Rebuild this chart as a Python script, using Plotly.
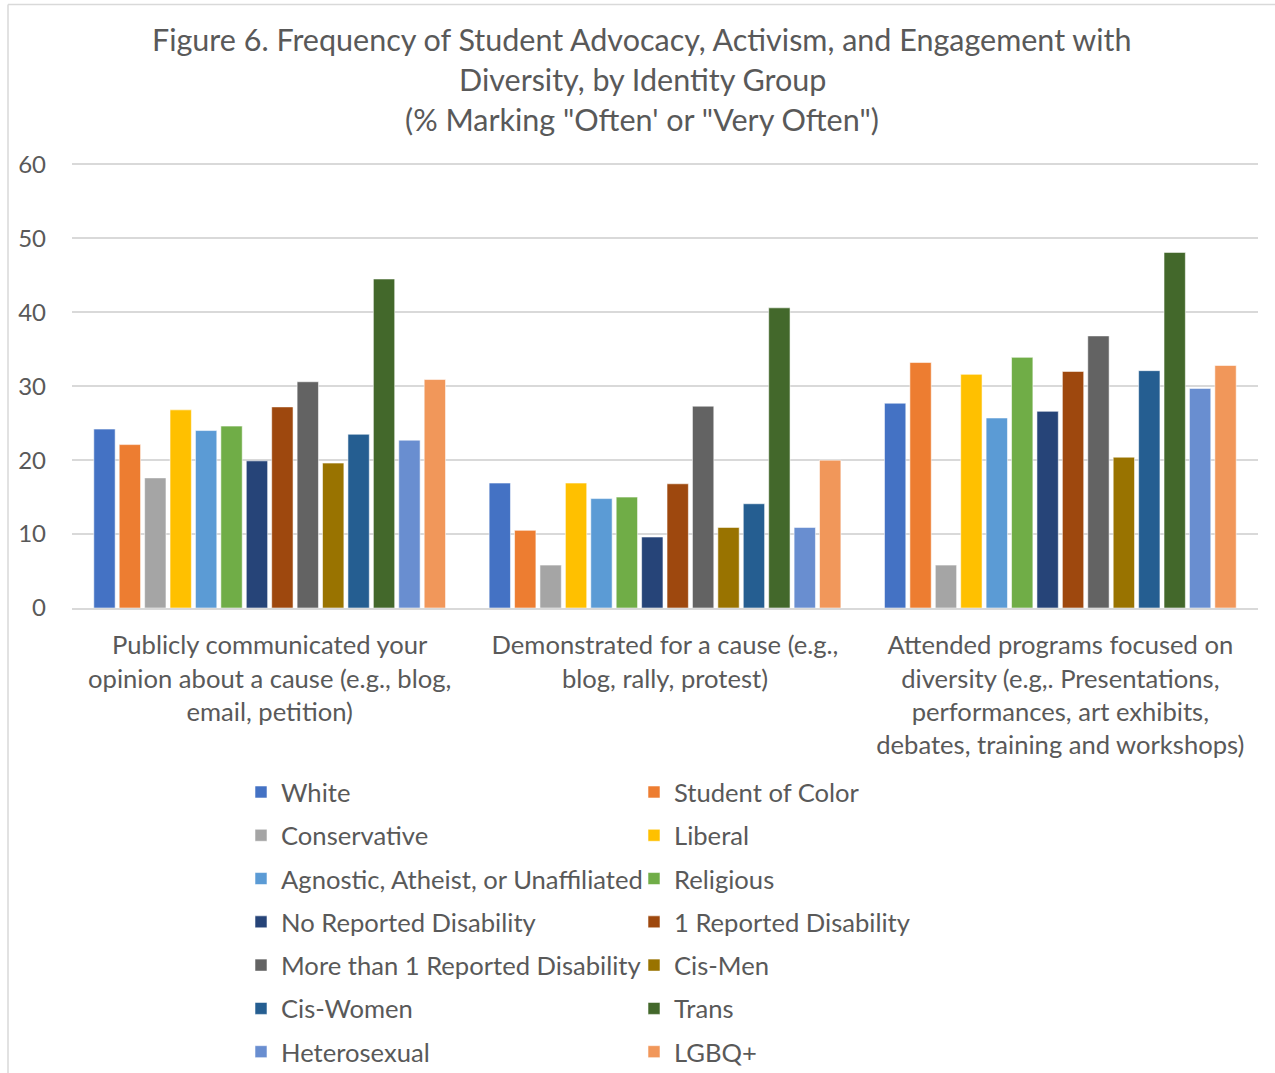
import plotly.graph_objects as go

categories = [
    "Publicly communicated your<br>opinion about a cause (e.g., blog,<br>email, petition)",
    "Demonstrated for a cause (e.g.,<br>blog, rally, protest)",
    "Attended programs focused on<br>diversity (e.g,. Presentations,<br>performances, art exhibits,<br>debates, training and workshops)",
]

series_names = [
    "White", "Student of Color", "Conservative", "Liberal",
    "Agnostic, Atheist, or Unaffiliated", "Religious",
    "No Reported Disability", "1 Reported Disability",
    "More than 1 Reported Disability", "Cis-Men", "Cis-Women", "Trans",
    "Heterosexual", "LGBQ+",
]

white = [24.2, 16.9, 27.7]
student_of_color = [22.1, 10.5, 33.2]
conservative = [17.6, 5.8, 5.8]
liberal = [26.8, 16.9, 31.6]
agnostic = [24.0, 14.8, 25.7]
religious = [24.6, 15.0, 33.9]
no_disability = [19.9, 9.6, 26.6]
one_disability = [27.2, 16.8, 32.0]
more_disability = [30.6, 27.3, 36.8]
cis_men = [19.6, 10.9, 20.4]
cis_women = [23.5, 14.1, 32.1]
trans = [44.5, 40.6, 48.1]
heterosexual = [22.7, 10.9, 29.7]
lgbq = [30.9, 20.0, 32.8]

series_values = [
    white, student_of_color, conservative, liberal, agnostic, religious,
    no_disability, one_disability, more_disability, cis_men, cis_women,
    trans, heterosexual, lgbq,
]

colors = [
    "#4472C4", "#ED7D31", "#A5A5A5", "#FFC000", "#5B9BD5", "#70AD47",
    "#264478", "#9E480E", "#636363", "#997300", "#255E91", "#43682B",
    "#698ED0", "#F1975A",
]

y_ticks = [0, 10, 20, 30, 40, 50, 60]

title_lines = [
    "Figure 6. Frequency of Student Advocacy, Activism, and Engagement with",
    "Diversity, by Identity Group",
    "(% Marking \"Often' or \"Very Often\")",
]

FONT = "Lato"
GREY = "#595959"

W, H = 1275, 1073
Y_MAX = 61
# 0 at 608 px, 60 at 164 px -> top of plot for Y_MAX
L, R, B = 72, 1258, 608
T = B - (B - 164) * Y_MAX / 60


def px_x(p):
    return (p - L) / (R - L)


def px_y(p):
    return (B - p) / (B - T)


fig = go.Figure()
for i, (name, vals, col) in enumerate(zip(series_names, series_values, colors)):
    fig.add_trace(go.Bar(
        name=name,
        x=categories,
        y=vals,
        marker=dict(color=col, line=dict(color="rgba(255,255,255,0.55)", width=1)),
        legend="legend" if i % 2 == 0 else "legend2",
        legendgroup=name,
    ))

legend_common = dict(
    orientation="v",
    yanchor="top",
    y=px_y(769),
    xanchor="left",
    font=dict(family=FONT, size=25.6, color=GREY),
    bgcolor="rgba(0,0,0,0)",
    tracegroupgap=7,
    itemclick=False,
)

title_y = [38, 79, 119]
annotations = [
    dict(text=t, x=px_x(642), y=px_y(yy), xref="paper", yref="paper",
         xanchor="center", yanchor="middle", showarrow=False,
         font=dict(family=FONT, size=30.5, color=GREY))
    for t, yy in zip(title_lines, title_y)
]

fig.update_layout(
    width=W,
    height=H,
    margin=dict(l=L, r=W - R, t=T, b=H - B, pad=0, autoexpand=False),
    paper_bgcolor="white",
    plot_bgcolor="white",
    barmode="group",
    bargap=0.10,
    bargroupgap=0.16,
    annotations=annotations,
    legend=dict(x=px_x(241), **legend_common),
    legend2=dict(x=px_x(634), **legend_common),
    font=dict(family=FONT, color=GREY),
    xaxis=dict(
        tickfont=dict(family=FONT, size=25.6, color=GREY),
        showline=True,
        linecolor="#D9D9D9",
        linewidth=1.5,
        ticks="",
        showgrid=False,
        ticklabelstandoff=14,
        tickangle=0,
        automargin=False,
    ),
    yaxis=dict(
        range=[0, Y_MAX],
        tickvals=y_ticks,
        ticktext=[str(v) for v in y_ticks],
        tickfont=dict(family=FONT, size=24, color=GREY),
        gridcolor="#D9D9D9",
        gridwidth=1.5,
        zeroline=False,
        showline=False,
        ticks="",
        ticklabelstandoff=25,
        automargin=False,
    ),
    shapes=[
        dict(type="line", xref="paper", yref="paper",
             x0=px_x(8), x1=px_x(8), y0=px_y(1080), y1=px_y(4),
             line=dict(color="#D9D9D9", width=1.5)),
        dict(type="line", xref="paper", yref="paper",
             x0=px_x(8), x1=px_x(1280), y0=px_y(4), y1=px_y(4),
             line=dict(color="#D9D9D9", width=1.5)),
    ],
)

fig.write_html(
    "out.html",
    config={"displayModeBar": False},
    post_script="document.body.style.margin='0px';",
)
